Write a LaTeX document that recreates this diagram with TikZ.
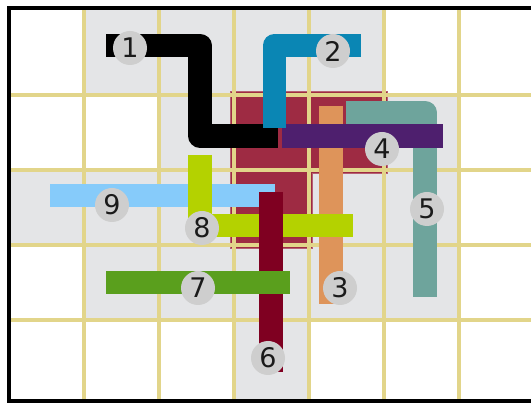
\documentclass[tikz,border=0pt]{standalone}
\usepackage{fontspec}
\setmainfont{DejaVu Sans}
\usepackage{xcolor}
\usetikzlibrary{positioning}
\definecolor{Cell}{HTML}{E4E5E7}
\definecolor{Grid}{HTML}{E2D58A}
\definecolor{Zone}{HTML}{9E2B43}
\definecolor{Tag}{HTML}{CECECE}
\definecolor{Ink}{HTML}{1A1A1A}
\definecolor{RouteA}{HTML}{000000}
\definecolor{RouteB}{HTML}{0A86B4}
\definecolor{RouteC}{HTML}{DE945A}
\definecolor{RouteD}{HTML}{4E1F6E}
\definecolor{RouteE}{HTML}{6EA49C}
\definecolor{RouteF}{HTML}{7F0021}
\definecolor{RouteG}{HTML}{5A9F1D}
\definecolor{RouteH}{HTML}{B4D200}
\definecolor{RouteI}{HTML}{86CBFA}
\tikzset{
  cell/.style={fill=Cell},
  zone/.style={fill=Zone,draw=Zone!75!white,line width=1.5pt},
  gridline/.style={draw=Grid,line width=4.3pt},
  frame/.style={draw=black,line width=4pt},
  route/.style={line width=23.5pt,line join=round,line cap=butt},
  tag/.style={circle,fill=Tag,text=Ink,minimum size=34pt,inner sep=0pt,font=\fontsize{27}{27}\selectfont}
}

\begin{document}
\begin{tikzpicture}[x=1pt,y=-1pt]
  \useasboundingbox (0,0) rectangle (531,403);
  \fill[white] (0,0) rectangle (531,403);
  \begin{scope}
    \clip (9,8.5) rectangle (545,401);
    \foreach \c in {1,...,4}
      \fill[cell] ({8.8+75*\c},0) rectangle +(75,94.8);
    \foreach \c/\r in {2/1,3/1,4/1,5/1,0/2,1/2,2/2,3/2,4/2,5/2,1/3,2/3,3/3,4/3,5/3}
      \fill[cell] ({8.8+75*\c},{19.8+75*\r}) rectangle +(75,75);
    \fill[cell] (233.8,319.8) rectangle +(75,90);
    \draw[zone] (230.3,91.3) -- (387.3,91.3) -- (387.3,173.3) -- (312.3,173.3)
      -- (312.3,248.3) -- (230.3,248.3) -- cycle;
    \foreach \k in {0,...,5}
      \draw[gridline] ({83.8+75*\k},0) -- ({83.8+75*\k},403);
    \foreach \k in {0,...,3}
      \draw[gridline] (0,{94.8+75*\k}) -- (545,{94.8+75*\k});
  \end{scope}
  \draw[frame] (545,8.5) -- (8.8,8.5) -- (8.8,401) -- (545,401);

  \draw[route,RouteA] (106,45.5) -- (200,45.5) -- (200,136) -- (278,136);
  \draw[route,RouteC] (331,106) -- (331,304);
  \draw[route,RouteE] (346,112.5) -- (425,112.5) -- (425,297);
  \draw[route,RouteD] (282,136) -- (443,136);
  \draw[route,RouteB] (274.5,128) -- (274.5,45.5) -- (361,45.5);
  \draw[route,RouteI] (50,195.5) -- (275,195.5);
  \draw[route,RouteH] (200,155) -- (200,225.5) -- (353,225.5);
  \draw[route,RouteF] (271,192) -- (271,372);
  \draw[route,RouteG] (106,282.5) -- (290,282.5);

  \node[tag] (t1) at (130,48) {1};
  \node[tag] (t2) at (333,51) {2};
  \node[tag] (t3) at (340,288) {3};
  \node[tag] (t4) at (382,149) {4};
  \node[tag] (t5) at (427,209) {5};
  \node[tag] (t6) at (268,358) {6};
  \node[tag] (t7) at (198,288) {7};
  \node[tag] (t8) at (202,228) {8};
  \node[tag] (t9) at (112,205) {9};
\end{tikzpicture}
\end{document}
